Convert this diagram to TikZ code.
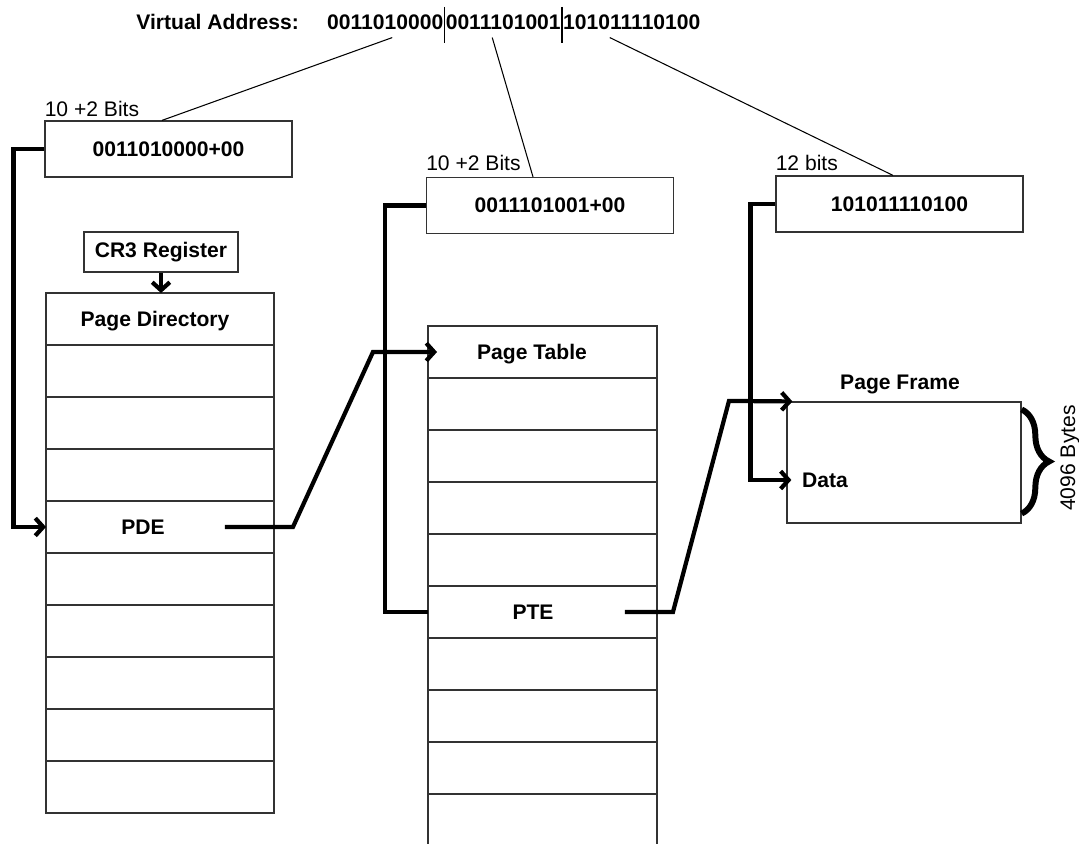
\documentclass[tikz,border=0pt]{standalone}
\usepackage{fontspec}
\setmainfont{Liberation Sans}
\usetikzlibrary{arrows,arrows.meta,decorations.pathreplacing,positioning}

\tikzset{
  txt/.style={font=\fontsize{12}{14}\selectfont},
  btxt/.style={font=\fontsize{12}{14}\selectfont\bfseries},
  bits/.style={btxt,inner xsep=0.5pt,inner ysep=4pt},
  offbox/.style={draw=black!80,line width=0.7pt,btxt,minimum width=4.94cm,minimum height=1.12cm,inner sep=0pt},
  cell/.style={draw=black!80,line width=0.7pt,minimum height=1.04cm,inner sep=0pt,outer sep=0pt},
  pdcell/.style={cell,minimum width=4.56cm},
  ptcell/.style={cell,minimum width=4.58cm},
  conn/.style={line width=2.4pt,>={Straight Barb[length=4.5pt,width=10pt]}},
  thinline/.style={line width=0.6pt},
}

\begin{document}
\begin{tikzpicture}[x=0.02cm,y=-0.02cm]
  \useasboundingbox[fill=white] (0,0) rectangle (1079,844); %Fix page size

  \node[btxt,anchor=base west,inner sep=0pt] (vaddr) at (136,30) {Virtual Address:}; %Title
  \node[bits,anchor=base west] (bitsa) at (326,30) {0011010000};   %Directory bits
  \node[bits,right=0pt of bitsa] (bitsb) {0011101001};            %Table bits
  \node[bits,right=0pt of bitsb] (bitsc) {101011110100};          %Offset bits
  \draw[line width=1pt] ([yshift=0.02cm]bitsa.north east) -- ([yshift=-0.1cm]bitsa.south east); %Separator 1
  \draw[line width=1pt] ([yshift=0.02cm]bitsb.north east) -- ([yshift=-0.1cm]bitsb.south east); %Separator 2

  \node[offbox] (pdoff) at (168.5,149) {0011010000+00}; %Directory offset box
  \node[offbox] (ptoff) at (550,205.5) {0011101001+00}; %Table offset box
  \node[offbox] (pgoff) at (899.5,204) {101011110100};  %Page offset box
  \node[txt,anchor=base west,inner sep=0pt] (pdbits) at ([yshift=0.08cm]pdoff.north west) {10 +2 Bits};
  \node[txt,anchor=base west,inner sep=0pt] (ptbits) at ([yshift=0.12cm]ptoff.north west) {10 +2 Bits};
  \node[txt,anchor=base west,inner sep=0pt] (pgbits) at ([yshift=0.1cm]pgoff.north west) {12 bits};

  \draw[thinline] ([xshift=0.14cm]bitsa.south) -- ([xshift=-0.13cm]pdoff.north); %Split to directory
  \draw[thinline] ([xshift=-0.22cm]bitsb.south) -- ([xshift=-0.34cm]ptoff.north); %Split to table
  \draw[thinline] ([xshift=-0.44cm]bitsc.south) -- ([xshift=-0.13cm]pgoff.north); %Split to offset

  \node[draw=black!80,line width=0.7pt,btxt,minimum width=3.08cm,minimum height=0.8cm,inner sep=0pt] (cr3) at (161,252) {CR3 Register};

  % Page directory
  \node[pdcell] (pdhead) at (160,319) {};
  \node[pdcell,below=0pt of pdhead] (pd1) {};
  \node[pdcell,below=0pt of pd1] (pd2) {};
  \node[pdcell,below=0pt of pd2] (pd3) {};
  \node[pdcell,below=0pt of pd3] (pde) {};
  \node[pdcell,below=0pt of pde] (pd4) {};
  \node[pdcell,below=0pt of pd4] (pd5) {};
  \node[pdcell,below=0pt of pd5] (pd6) {};
  \node[pdcell,below=0pt of pd6] (pd7) {};
  \node[pdcell,below=0pt of pd7] (pd8) {};
  \node[btxt,anchor=base] (pdtitle) at (155,327) {Page Directory};
  \node[btxt,anchor=base] (pdelbl) at (143,535) {PDE};

  % Page table
  \node[ptcell] (pthead) at (542.5,352) {};
  \node[ptcell,below=0pt of pthead] (pt1) {};
  \node[ptcell,below=0pt of pt1] (pt2) {};
  \node[ptcell,below=0pt of pt2] (pt3) {};
  \node[ptcell,below=0pt of pt3] (pt4) {};
  \node[ptcell,below=0pt of pt4] (pte) {};
  \node[ptcell,below=0pt of pte] (pt5) {};
  \node[ptcell,below=0pt of pt5] (pt6) {};
  \node[ptcell,below=0pt of pt6] (pt7) {};
  \node[ptcell,below=0pt of pt7] (pt8) {};
  \node[btxt,anchor=base] (pttitle) at (532,360) {Page Table};
  \node[btxt,anchor=base] (ptelbl) at (533,620) {PTE};

  % Page frame
  \node[draw=black!80,line width=0.7pt,minimum width=4.68cm,minimum height=2.42cm,inner sep=0pt] (pframe) at (904,462.5) {};
  \node[btxt,anchor=base] (pftitle) at (900,390) {Page Frame};
  \node[btxt,anchor=west] (data) at (796,480) {Data};
  \draw[line width=3.4pt,decorate,decoration={brace,amplitude=0.55cm}] ([yshift=-0.16cm]pframe.north east) -- ([yshift=0.2cm]pframe.south east); %Frame size brace
  \node[txt,rotate=90] (bytes) at (1070,458) {4096 Bytes};

  \draw[conn,->] (cr3.south) -- (cr3.south |- pdhead.north); %CR3 to directory
  \draw[conn,->] (pdoff.west) -- ++(-31,0) |- (pde.west);   %Offset into directory
  \draw[conn] (ptoff.west) -- ++(-41,0) |- (pte.west);      %Offset into table
  \draw[conn,->,shorten >=-0.1cm] (pgoff.west) -- ++(-25,0) |- (pframe.west |- data.west); %Offset into frame
  \draw[conn,->,shorten >=-0.18cm] ([xshift=1.3cm]pde.center) -- ++(68,0) -- ++(80,-175) -- (pthead.west);   %PDE to table
  \draw[conn,->,shorten >=-0.12cm] ([xshift=1.65cm]pte.center) -- ++(48,0) -- ++(56,-211) -- (pframe.north west); %PTE to frame
\end{tikzpicture}
\end{document}
